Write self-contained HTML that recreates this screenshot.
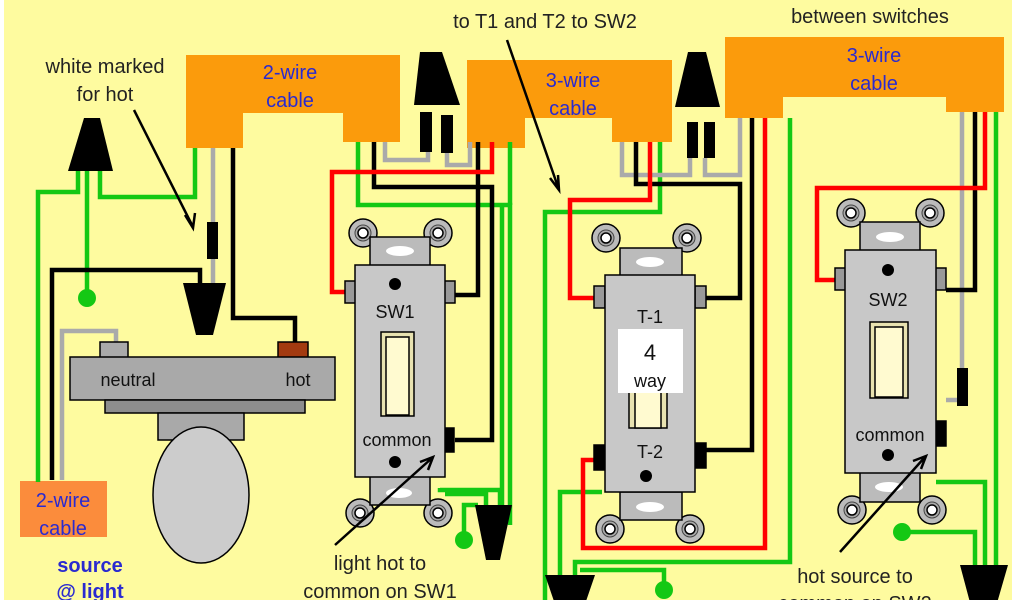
<!DOCTYPE html>
<html><head><meta charset="utf-8"><style>
html,body{margin:0;padding:0;background:#fff;}
svg{display:block;}
text{font-family:"Liberation Sans",sans-serif;}
</style></head><body>
<svg width="1024" height="600" viewBox="0 0 1024 600" xmlns="http://www.w3.org/2000/svg">
<rect x="4" y="0" width="1008" height="600" fill="#fefb9f"/>
<g font-size="20" fill="#222" text-anchor="middle">
<text x="105" y="73">white marked</text>
<text x="105" y="101">for hot</text>
<text x="545" y="0">travelers from SW1</text>
<text x="545" y="28">to T1 and T2 to SW2</text>
<text x="870" y="23">between switches</text>
<text x="380" y="570">light hot to</text>
<text x="380" y="598">common on SW1</text>
<text x="855" y="583">hot source to</text>
<text x="855" y="610">common on SW2</text>
</g>
<g fill="#fb9b0c">
<path d="M186 55H400V142H343V113H243V148H186Z"/>
<path d="M467 60H672V142H612V118H525V148H467Z"/>
<path d="M725 37H1004V112H946V97H783V118H725Z"/>
<rect x="20" y="481" width="87" height="56" fill="#fb8c3c"/>
</g>
<g font-size="20" fill="#2a2ad0" text-anchor="middle">
<text x="290" y="79">2-wire</text><text x="290" y="107">cable</text>
<text x="573" y="87">3-wire</text><text x="573" y="115">cable</text>
<text x="874" y="62">3-wire</text><text x="874" y="90">cable</text>
<text x="63" y="507">2-wire</text><text x="63" y="535">cable</text>
<text x="90" y="572" font-weight="bold">source</text>
<text x="90" y="598" font-weight="bold">@ light</text>
</g>
<g fill="none" stroke-width="4.5" stroke-linejoin="miter">
<g stroke="#14c814">
<path d="M78 171V192H38V482"/>
<path d="M87 171V298"/>
<path d="M100 171V197H195V148"/>
<path d="M358 142V205H510V525"/>
<path d="M510 142V205M502 205V530"/>
<path d="M440 488V490H500V525"/>
<path d="M445 494H486V505"/>
<path d="M464 540V505H478"/>
<path d="M660 142V212H545V600"/>
<path d="M602 492H560V600"/>
<path d="M790 118V562H575V580"/>
<path d="M664 590V570H580"/>
<path d="M996 112V570"/>
<path d="M936 482H985V570"/>
<path d="M902 532H975V570"/>
</g>
<g stroke="#aaa">
<path d="M213 148V283"/>
<path d="M62 480V331H116V342"/>
<path d="M385 142V160H428V150"/>
<path d="M447 153V165H470V142"/>
<path d="M622 142V175H690V158"/>
<path d="M705 158V175H740V118"/>
<path d="M962 112V400H946"/>
</g>
<g stroke="#000">
<path d="M233 148V318H295V342"/>
<path d="M52 480V270H200V283"/>
<path d="M374 142V187H492V440H455"/>
<path d="M478 142V295H455"/>
<path d="M636 142V184H740V298H705"/>
<path d="M752 118V450H705"/>
<path d="M975 112V290H946"/>
</g>
<g stroke="#f00">
<path d="M492 142V172H332V292H355"/>
<path d="M650 142V200H570V298H605"/>
<path d="M602 460H583V548H765V118"/>
<path d="M985 112V188H817V280H845"/>
</g>
</g>
<g fill="#000">
<rect x="207" y="222" width="11" height="37"/>
<rect x="420" y="112" width="12" height="40"/>
<rect x="441" y="115" width="12" height="38"/>
<rect x="687" y="122" width="11" height="36"/>
<rect x="704" y="122" width="11" height="36"/>
<rect x="957" y="368" width="11" height="38"/>
</g>
<g fill="#000">
<path d="M84 118H100L113 171H68Z"/>
<path d="M420 52H442L460 105H414Z"/>
<path d="M688 52H706L720 107H675Z"/>
<path d="M183 283H226L213 335H196Z"/>
<path d="M475 505H512L500 560H486Z"/>
<path d="M545 575H595L583 610H557Z"/>
<path d="M960 565H1008L995 610H972Z"/>
</g>
<g fill="#14c814">
<circle cx="87" cy="298" r="9"/><circle cx="464" cy="540" r="9"/>
<circle cx="664" cy="590" r="9"/><circle cx="902" cy="532" r="9"/>
</g>
<g stroke="#000" stroke-width="1.5">
<rect x="100" y="342" width="28" height="16" fill="#aaa"/>
<rect x="278" y="342" width="30" height="16" fill="#a33a10"/>
<rect x="70" y="357" width="265" height="43" fill="#a9a9a9"/>
<rect x="105" y="400" width="200" height="13" fill="#8d8d8d"/>
<rect x="158" y="413" width="86" height="27" fill="#a9a9a9"/>
<ellipse cx="201" cy="495" rx="48" ry="68" fill="#ccc"/>
</g>
<g font-size="18" fill="#111" text-anchor="middle">
<text x="128" y="386">neutral</text><text x="298" y="386">hot</text>
</g>
<defs>
<g id="scr"><circle r="14" fill="#bbb" stroke="#000" stroke-width="1.5"/><circle r="8" fill="#aaa" stroke="#444" stroke-width="1"/><circle r="5" fill="#fff"/></g>
</defs>
<g stroke="#000" stroke-width="1.5">
<use href="#scr" x="363" y="233"/><use href="#scr" x="438" y="233"/>
<use href="#scr" x="360" y="513"/><use href="#scr" x="438" y="513"/>
<rect x="370" y="237" width="60" height="30" fill="#bbb"/>
<rect x="370" y="476" width="60" height="29" fill="#bbb"/>
<rect x="345" y="281" width="11" height="22" fill="#999"/>
<rect x="444" y="281" width="11" height="22" fill="#999"/>
<rect x="444" y="428" width="10" height="24" fill="#000"/>
<rect x="355" y="265" width="90" height="212" fill="#c8c8c8"/>
<rect x="381" y="332" width="33" height="84" fill="#e8e2b0"/>
<rect x="386" y="337" width="23" height="78" fill="#fffad0"/>
</g>
<ellipse cx="400" cy="251" rx="14" ry="5" fill="#fff"/>
<ellipse cx="399" cy="493" rx="13" ry="5" fill="#fff"/>
<circle cx="395" cy="284" r="6"/><circle cx="395" cy="462" r="6"/>
<g font-size="18" fill="#111" text-anchor="middle">
<text x="395" y="318">SW1</text><text x="397" y="446">common</text>
</g>
<g stroke="#000" stroke-width="1.5">
<use href="#scr" x="606" y="238"/><use href="#scr" x="687" y="238"/>
<use href="#scr" x="610" y="529"/><use href="#scr" x="690" y="529"/>
<rect x="620" y="248" width="62" height="28" fill="#bbb"/>
<rect x="620" y="492" width="62" height="28" fill="#bbb"/>
<rect x="594" y="286" width="11" height="22" fill="#999"/>
<rect x="695" y="286" width="11" height="22" fill="#999"/>
<rect x="594" y="445" width="11" height="25" fill="#000"/>
<rect x="695" y="443" width="11" height="25" fill="#000"/>
<rect x="605" y="275" width="90" height="217" fill="#c8c8c8"/>
<rect x="629" y="390" width="38" height="38" fill="#e8e2b0"/>
<rect x="635" y="392" width="26" height="36" fill="#fffad0"/>
</g>
<rect x="618" y="329" width="65" height="64" fill="#fff"/>
<ellipse cx="650" cy="507" rx="14" ry="5" fill="#fff"/>
<ellipse cx="650" cy="262" rx="14" ry="5" fill="#fff"/>
<circle cx="646" cy="476" r="6"/>
<g font-size="18" fill="#111" text-anchor="middle">
<text x="650" y="323">T-1</text><text x="650" y="458">T-2</text>
<text x="650" y="360" font-size="22">4</text><text x="650" y="387">way</text>
</g>
<g stroke="#000" stroke-width="1.5">
<use href="#scr" x="851" y="213"/><use href="#scr" x="930" y="213"/>
<use href="#scr" x="852" y="510"/><use href="#scr" x="932" y="510"/>
<rect x="860" y="222" width="60" height="30" fill="#bbb"/>
<rect x="860" y="472" width="60" height="30" fill="#bbb"/>
<rect x="835" y="268" width="11" height="22" fill="#999"/>
<rect x="935" y="268" width="11" height="22" fill="#999"/>
<rect x="935" y="421" width="11" height="25" fill="#000"/>
<rect x="845" y="250" width="91" height="223" fill="#c8c8c8"/>
<rect x="870" y="322" width="38" height="76" fill="#e8e2b0"/>
<rect x="875" y="327" width="28" height="70" fill="#fffad0"/>
</g>
<ellipse cx="890" cy="237" rx="14" ry="5" fill="#fff"/>
<ellipse cx="889" cy="487" rx="14" ry="5" fill="#fff"/>
<circle cx="888" cy="270" r="6"/><circle cx="888" cy="455" r="6"/>
<g font-size="18" fill="#111" text-anchor="middle">
<text x="888" y="306">SW2</text><text x="890" y="441">common</text>
</g>
<g stroke="#000" stroke-width="2.5" fill="none">
<path d="M134 110L192 225M185 215L193 228L195 213"/>
<path d="M507 40L558 187M550 178L559 190L558 175"/>
<path d="M335 545L432 458M420 462L433 457L428 470"/>
<path d="M840 552L925 457M913 461L926 456L921 469"/>
</g>
</svg>
</body></html>
